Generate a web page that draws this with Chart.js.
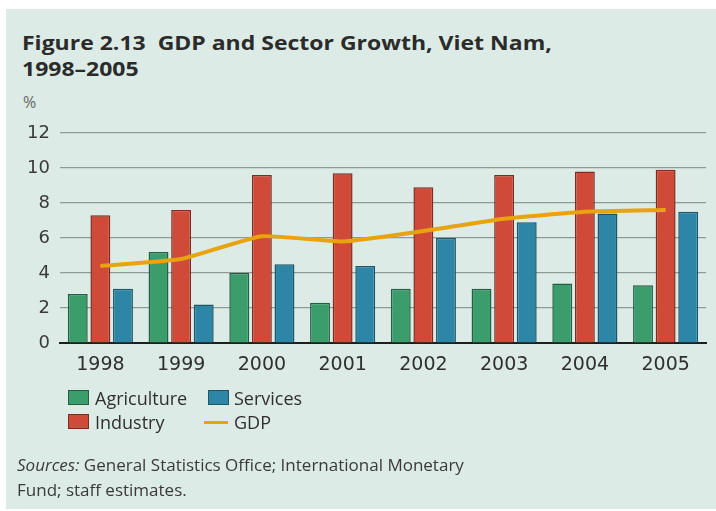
<!DOCTYPE html>
<html>
<head>
<meta charset="utf-8">
<script src="https://cdn.jsdelivr.net/npm/chart.js@4.4.1/dist/chart.umd.min.js"></script>
<style>
  body { margin: 0; background: #fff; width: 716px; height: 511px; overflow: hidden; font-family: "Open Sans", sans-serif; }
  #panel { position: absolute; left: 6px; top: 9px; width: 710px; height: 500px; background: #dcebe5; }
  #gdpChart { position: absolute; left: 0; top: 0; }
  .title { position: absolute; left: 22px; top: 30px; font-weight: bold; font-size: 19px; line-height: 26px; color: #2b2b2b;
           transform: scaleX(1.21); transform-origin: left top; white-space: nowrap; }
  .unit { position: absolute; left: 23px; top: 91px; font-size: 16px; color: #666; }
  #legend { position: absolute; left: 68px; top: 386px; font-size: 18px; color: #2f2f2f; }
  .item { position: absolute; white-space: nowrap; height: 24px; line-height: 24px; }
  .sw { position: absolute; top: 4px; width: 21px; height: 15px; box-sizing: border-box; }
  .ln { position: absolute; top: 11px; width: 24px; height: 3px; }
  .source { position: absolute; left: 17px; top: 452px; font-size: 17px; line-height: 25px; color: #3a3a3a; }
</style>
</head>
<body>
<div id="panel"></div>
<div class="title">Figure 2.13&nbsp; GDP and Sector Growth, Viet Nam,<br>1998–2005</div>
<div class="unit">%</div>
<canvas id="gdpChart" width="716" height="511"></canvas>
<div id="legend"></div>
<div class="source"><i>Sources:</i> General Statistics Office; International Monetary<br>Fund; staff estimates.</div>
<script>
// growth rates, percent
const years = ['1998', '1999', '2000', '2001', '2002', '2003', '2004', '2005'];
const agriculture = [2.8, 5.2, 4.0, 2.3, 3.1, 3.1, 3.4, 3.3];
const industry = [7.3, 7.6, 9.6, 9.7, 8.9, 9.6, 9.8, 9.9];
const services = [3.1, 2.2, 4.5, 4.4, 6.0, 6.9, 7.4, 7.5];
const gdp = [4.4, 4.8, 6.1, 5.8, 6.4, 7.1, 7.5, 7.6];
const yTicks = [0, 2, 4, 6, 8, 10, 12];

const gridColor = '#8d9a95';

function barSet(label, data, fill, edge) {
    return {
        type: 'bar',
        label: label,
        data: data,
        backgroundColor: fill,
        borderColor: edge,
        borderWidth: 1.5,
        borderSkipped: 'bottom',
        categoryPercentage: 0.84,
        barPercentage: 0.88,
        order: 1
    };
}

const ctx = document.getElementById('gdpChart');
const chart = new Chart(ctx, {
    data: {
        labels: years,
        datasets: [
            barSet('Agriculture', agriculture, '#3a9d6b', '#245e44'),
            barSet('Industry', industry, '#d04b37', '#7e2c22'),
            barSet('Services', services, '#2e86a7', '#1d5569'),
            {
                type: 'line',
                label: 'GDP',
                data: gdp,
                borderColor: '#e8a30f',
                borderWidth: 4,
                pointRadius: 0,
                tension: 0.15,
                fill: false,
                order: 0
            }
        ]
    },
    options: {
        responsive: false,
        animation: false,
        layout: { padding: { left: 0, right: 10, top: 133, bottom: 128 } },
        plugins: { legend: { display: false }, tooltip: { enabled: false } },
        scales: {
            x: {
                grid: { display: false, drawTicks: false },
                border: { display: true, color: '#1e1e1e', width: 2 },
                ticks: { color: '#2f2f2f', font: { family: 'DejaVu Sans', size: 19 }, padding: 11 },
                afterFit: (scale) => { scale.height = 40; }
            },
            y: {
                min: 0,
                max: 12,
                afterBuildTicks: (scale) => { scale.ticks = yTicks.map(v => ({ value: v })); },
                grid: { color: gridColor, lineWidth: 1.2, drawTicks: false },
                border: { display: false },
                ticks: { color: '#3a3a3a', font: { family: 'DejaVu Sans', size: 18 }, padding: 10 },
                afterFit: (scale) => { scale.width = 60; }
            }
        }
    }
});

// legend built from the datasets, two columns
const legend = document.getElementById('legend');
const slots = [[0, 0], [0, 1], [1, 0], [1, 1]];  // [col, row] for Agriculture, Industry, Services, GDP
chart.data.datasets.forEach((ds, i) => {
    const [col, row] = slots[i];
    const item = document.createElement('div');
    item.className = 'item';
    item.style.left = (col ? 136 : 0) + 'px';
    item.style.top = (row * 24) + 'px';
    item.style.paddingLeft = (col ? 30 : 27) + 'px';
    const mark = document.createElement('div');
    if (ds.type === 'line') {
        mark.className = 'ln';
        mark.style.left = '0px';
        mark.style.background = ds.borderColor;
    } else {
        mark.className = 'sw';
        mark.style.left = (col ? 4 : 0) + 'px';
        mark.style.background = ds.backgroundColor;
        mark.style.border = '1px solid ' + ds.borderColor;
    }
    item.appendChild(mark);
    item.appendChild(document.createTextNode(ds.label));
    legend.appendChild(item);
});
</script>
</body>
</html>
